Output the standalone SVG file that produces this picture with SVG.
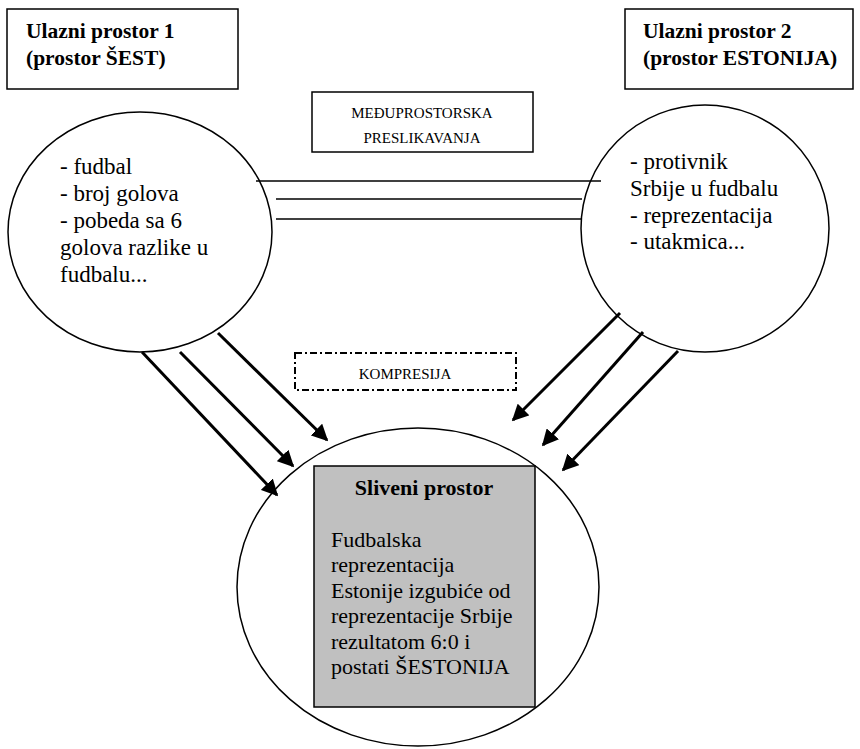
<svg xmlns="http://www.w3.org/2000/svg" width="860" height="749" viewBox="0 0 860 749">
  <defs>
    <marker id="arrowhead" viewBox="0 0 10 10" refX="9" refY="5" markerWidth="5.5" markerHeight="5.5" markerUnits="strokeWidth" orient="auto">
      <path d="M0,0 L10,5 L0,10 Z" fill="#000"/>
    </marker>
  </defs>
  <style>
    .box { fill: #fff; stroke: #000; stroke-width: 1.5; }
    .space { fill: #fff; stroke: #000; stroke-width: 1.5; }
    text { font-family: 'Liberation Serif', 'Times New Roman', serif; fill: #000; }
    .title { font-weight: bold; font-size: 21.5px; }
    .body { font-size: 23px; }
    .inner { font-size: 22px; }
    .small { font-size: 15px; }
    .map { stroke: #000; stroke-width: 1.5; }
    .arrow { stroke: #000; stroke-width: 3; fill: none; marker-end: url(#arrowhead); }
  </style>
  <rect width="860" height="749" fill="#fff"/>

  <!-- input space 1 label -->
  <g id="label-input1">
    <rect class="box" x="7" y="9" width="231" height="80"/>
    <text class="title" x="26" y="38">Ulazni prostor 1</text>
    <text class="title" x="26" y="65">(prostor ŠEST)</text>
  </g>

  <!-- input space 2 label -->
  <g id="label-input2">
    <rect class="box" x="625" y="9" width="228" height="80"/>
    <text class="title" x="643" y="38">Ulazni prostor 2</text>
    <text class="title" x="643" y="65">(prostor ESTONIJA)</text>
  </g>

  <!-- cross-space mapping label -->
  <g id="label-mapping">
    <rect class="box" x="312" y="92" width="221" height="60"/>
    <text class="small" x="422" y="118" text-anchor="middle">MEĐUPROSTORSKA</text>
    <text class="small" x="422" y="143" text-anchor="middle">PRESLIKAVANJA</text>
  </g>

  <!-- compression label -->
  <g id="label-compression">
    <rect x="295" y="353" width="221" height="37" fill="#fff" stroke="#000" stroke-width="2" stroke-dasharray="7,3,2,3"/>
    <text class="small" x="405" y="379" text-anchor="middle">KOMPRESIJA</text>
  </g>

  <!-- input space 1 -->
  <g id="space-input1">
    <ellipse class="space" cx="140" cy="232" rx="132" ry="120"/>
    <text class="body" x="60" y="174">- fudbal</text>
    <text class="body" x="60" y="201">- broj golova</text>
    <text class="body" x="60" y="228">- pobeda sa 6</text>
    <text class="body" x="60" y="255">golova razlike u</text>
    <text class="body" x="60" y="282">fudbalu...</text>
  </g>

  <!-- input space 2 -->
  <g id="space-input2">
    <ellipse class="space" cx="705" cy="228.5" rx="124" ry="123.5"/>
    <text class="body" x="630" y="169">- protivnik</text>
    <text class="body" x="630" y="196">Srbije u fudbalu</text>
    <text class="body" x="630" y="223">- reprezentacija</text>
    <text class="body" x="630" y="249">- utakmica...</text>
  </g>

  <!-- blended space -->
  <g id="space-blend">
    <ellipse class="space" cx="418" cy="587" rx="181" ry="159"/>
    <rect x="314" y="466" width="221" height="241" fill="#c0c0c0" stroke="#000" stroke-width="1.5"/>
    <text class="title" x="424" y="495" text-anchor="middle" style="font-size:22px">Sliveni prostor</text>
    <text class="inner" x="331" y="547">Fudbalska</text>
    <text class="inner" x="331" y="572">reprezentacija</text>
    <text class="inner" x="331" y="598">Estonije izgubiće od</text>
    <text class="inner" x="331" y="623">reprezentacije Srbije</text>
    <text class="inner" x="331" y="649">rezultatom 6:0 i</text>
    <text class="inner" x="331" y="674">postati ŠESTONIJA</text>
  </g>

  <!-- connectors -->
  <g id="connectors">
    <line class="map" x1="256" y1="181" x2="601" y2="181"/>
    <line class="map" x1="276" y1="199" x2="582" y2="199"/>
    <line class="map" x1="276" y1="219" x2="582" y2="219"/>

    <line class="arrow" x1="142" y1="352" x2="277" y2="495"/>
    <line class="arrow" x1="180" y1="352" x2="293" y2="466"/>
    <line class="arrow" x1="218" y1="333" x2="327" y2="440"/>

    <line class="arrow" x1="620" y1="313" x2="513" y2="420"/>
    <line class="arrow" x1="643" y1="332" x2="543" y2="445"/>
    <line class="arrow" x1="678" y1="351" x2="563" y2="470"/>
  </g>
</svg>
